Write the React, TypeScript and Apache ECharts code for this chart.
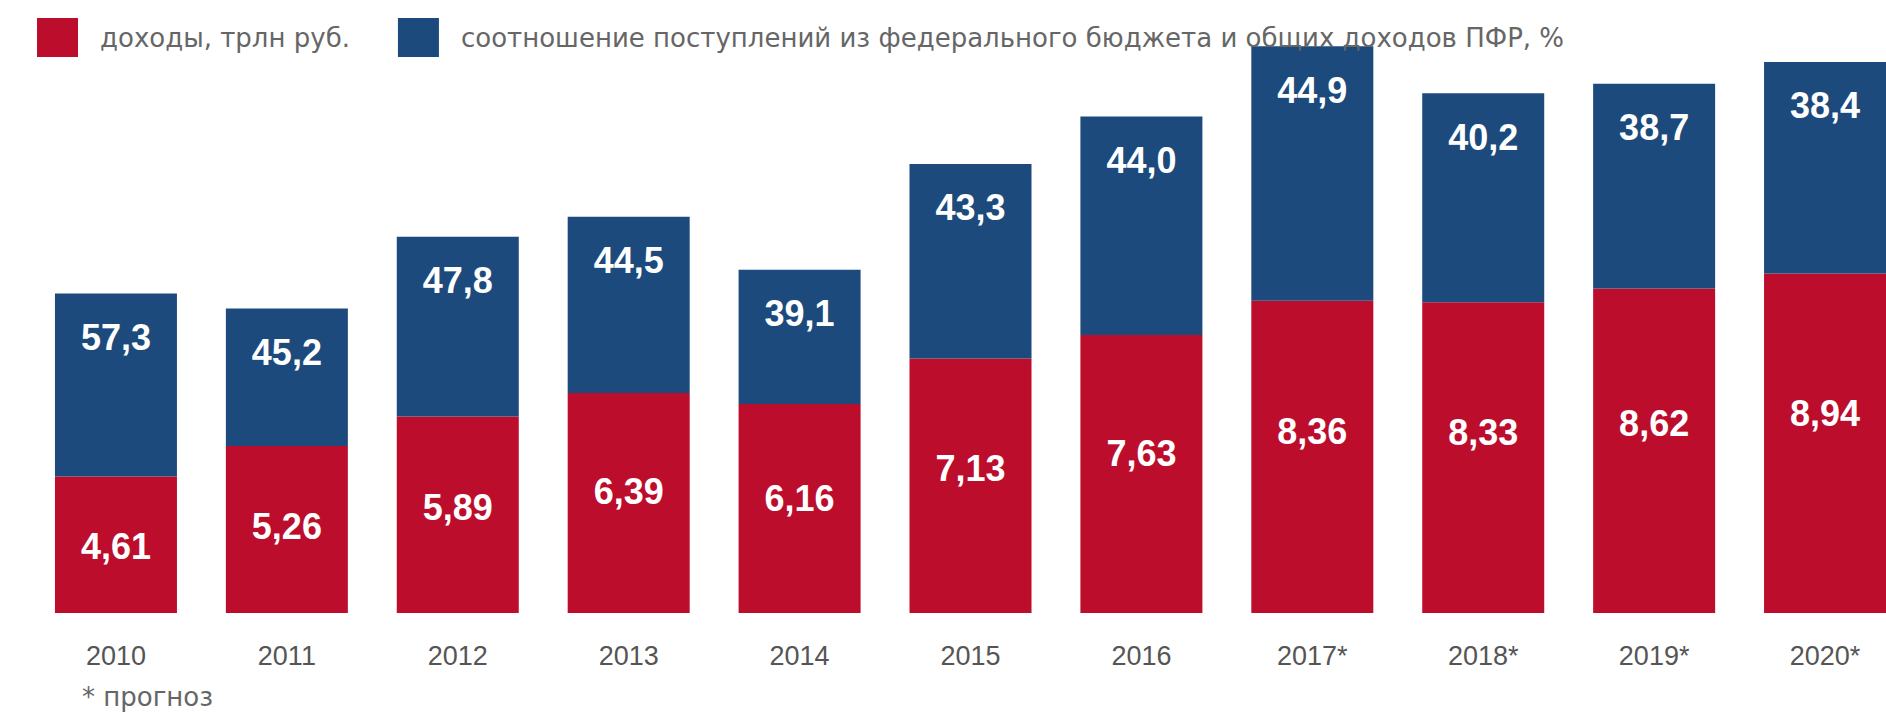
import React, { useEffect, useRef } from "react";
import * as echarts from "echarts";

// ---- data ----
const years = ["2010", "2011", "2012", "2013", "2014", "2015", "2016", "2017*", "2018*", "2019*", "2020*"];
// доходы ПФР, трлн руб.
const revenue = [4.61, 5.26, 5.89, 6.39, 6.16, 7.13, 7.63, 8.36, 8.33, 8.62, 8.94];
// соотношение поступлений из федерального бюджета и общих доходов ПФР, %
const fedShare = [57.3, 45.2, 47.8, 44.5, 39.1, 43.3, 44.0, 44.9, 40.2, 38.7, 38.4];

const revenueName = "доходы, трлн руб.";
const shareName = "соотношение поступлений из федерального бюджета и общих доходов ПФР, %";
const footnote = "* прогноз";

// value axis starts above zero (as in the original infographic)
const AXIS_MIN = 1.7;
const AXIS_MAX = 13.9;

const RED = "#BC0D2C";
const BLUE = "#1D4A7C";

export default function App() {
  const ref = useRef<HTMLDivElement>(null);

  useEffect(() => {
    if (!ref.current) return;
    const chart = echarts.init(ref.current, undefined, { renderer: "svg" });

    // blue segment: the federal share p of the whole bar (whole = red / (1 - p))
    const blueSeg = revenue.map((v, i) => {
      const p = fedShare[i] / 100;
      return ((v - AXIS_MIN) * p) / (1 - p);
    });

    const labelFont = {
      fontFamily: "Liberation Sans, Arial, sans-serif",
      fontWeight: "bold" as const,
      fontSize: 36,
      color: "#ffffff",
    };

    chart.setOption({
      animation: false,
      backgroundColor: "#ffffff",
      legend: {
        left: 32,
        top: 13,
        itemWidth: 41,
        itemHeight: 39,
        itemGap: 48,
        icon: "rect",
        selectedMode: false,
        textStyle: {
          fontFamily: "DejaVu Sans, sans-serif",
          fontSize: 26,
          color: "#666666",
          padding: [0, 0, 0, 17],
        },
        data: [revenueName, shareName],
      },
      grid: {
        left: 30.5,
        width: 1880,
        top: 41,
        bottom: 101,
        containLabel: false,
        outerBoundsMode: "none",
      },
      xAxis: {
        type: "category",
        data: years,
        axisLine: { show: false },
        axisTick: { show: false },
        axisLabel: {
          margin: 29,
          fontFamily: "Liberation Sans, Arial, sans-serif",
          fontSize: 27,
          color: "#555555",
          interval: 0,
        },
      },
      yAxis: {
        type: "value",
        min: AXIS_MIN,
        max: AXIS_MAX,
        show: false,
        splitLine: { show: false },
      },
      series: [
        {
          name: revenueName,
          type: "bar",
          stack: "total",
          barWidth: 122,
          clip: true,
          itemStyle: { color: RED },
          label: {
            show: true,
            position: ["50%", "34.4%"],
            offset: [0, 23],
            align: "center",
            verticalAlign: "middle",
            ...labelFont,
            formatter: (pr: any) => revenue[pr.dataIndex].toFixed(2).replace(".", ","),
          },
          data: revenue,
        },
        {
          name: shareName,
          type: "bar",
          stack: "total",
          barWidth: 122,
          clip: true,
          itemStyle: { color: BLUE },
          label: {
            show: true,
            position: ["50%", 44],
            align: "center",
            verticalAlign: "middle",
            ...labelFont,
            formatter: (pr: any) => fedShare[pr.dataIndex].toFixed(1).replace(".", ","),
          },
          data: blueSeg,
        },
      ],
      graphic: [
        {
          type: "text",
          left: 82,
          top: 684,
          style: {
            text: footnote,
            fontFamily: "DejaVu Sans, sans-serif",
            fontSize: 26,
            fill: "#666666",
          },
        },
      ],
    });

    return () => chart.dispose();
  }, []);

  return (
    <div
      ref={ref}
      style={{ position: "absolute", left: 0, top: 0, width: 1886, height: 714 }}
    />
  );
}
